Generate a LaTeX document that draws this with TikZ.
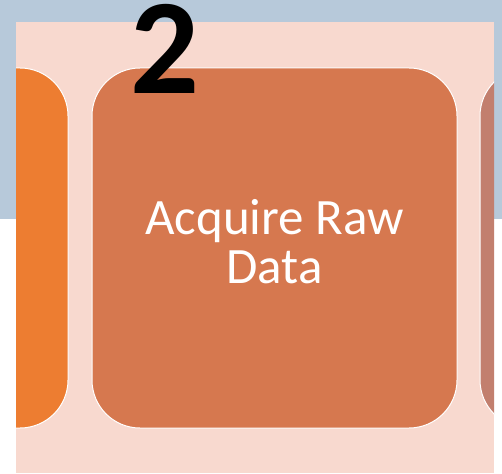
\documentclass[tikz,border=0pt]{standalone}
\usepackage{fontspec}
\setmainfont{Carlito}
\usetikzlibrary{positioning}
\definecolor{sky}{HTML}{B7C9DA}
\definecolor{blush}{HTML}{F8D9CF}
\definecolor{prevfill}{HTML}{ED7D31}
\definecolor{stagefill}{HTML}{D6784F}
\definecolor{nextfill}{HTML}{C27F6E}
\newcommand{\stagefont}{\fontsize{51}{49}\selectfont}
\newcommand{\numfont}{\fontsize{136}{136}\selectfont\bfseries}
\tikzset{
 card/.style={draw=white,line width=1pt,rounded corners=48pt,minimum width=365pt,minimum height=360pt,inner sep=0pt},
 prev/.style={card,fill=prevfill},
 stage/.style={card,fill=stagefill},
 next/.style={card,fill=nextfill},
 caption/.style={font=\stagefont,text=white,align=center,inner sep=0pt},
 number/.style={font=\numfont,text=black,inner sep=0pt,anchor=base},
}

\begin{document}
\begin{tikzpicture}[x=1pt,y=-1pt]

\useasboundingbox (0,0) rectangle (502,473);
\fill[sky] (0,0) rectangle (502,219);
\fill[white] (0,219) rectangle (502,473);
\fill[blush] (16,22) rectangle (494,473);
\begin{scope}
\clip (16,22) rectangle (494,473);
\node[prev] (collect) at (-114.5,248) {};
\node[stage] (acquire) at (274.5,248) {};
\node[next] (process) at (662.5,248) {};
\end{scope}
\node[caption] (acqtext) at ([yshift=6pt]acquire.center) {Acquire Raw\\Data};
\node[number] (step2) at (165,94) {2};

\end{tikzpicture}
\end{document}
